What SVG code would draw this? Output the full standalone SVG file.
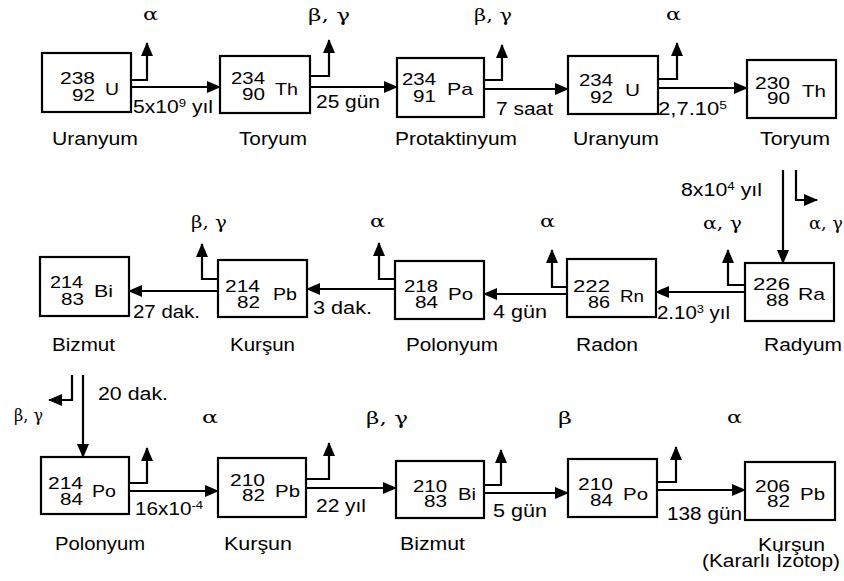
<svg xmlns="http://www.w3.org/2000/svg" width="844" height="581" viewBox="0 0 844 581">
<style>
.box{fill:#fff;stroke:#000;stroke-width:2.2}
.t{font-family:"Liberation Sans",Arial,sans-serif;font-size:17.5px;fill:#000}
.n{font-family:"Liberation Sans",Arial,sans-serif;font-size:17px;fill:#000}
.g{font-family:"DejaVu Serif","Liberation Serif",serif;font-size:17px;fill:#000}
.c path{fill:none;stroke:#000;stroke-width:2.2}
.sup{font-size:11px}
</style>
<defs>
<marker id="ah" markerUnits="userSpaceOnUse" markerWidth="14" markerHeight="12" refX="13" refY="6" orient="auto">
<path d="M0,0 L14,6 L0,12 z" fill="#000"/>
</marker>
</defs>
<rect width="844" height="581" fill="#fff"/>

<g id="connectors" class="c">
<path d="M131,80 H147 V43" marker-end="url(#ah)"/>
<path d="M131,87 H220" marker-end="url(#ah)"/>
<path d="M310,76 H329 V40" marker-end="url(#ah)"/>
<path d="M310,87 H397" marker-end="url(#ah)"/>
<path d="M484,80 H502 V45" marker-end="url(#ah)"/>
<path d="M484,89 H568" marker-end="url(#ah)"/>
<path d="M658,79 H677 V43" marker-end="url(#ah)"/>
<path d="M658,88 H747" marker-end="url(#ah)"/>
<path d="M783,170 V263" marker-end="url(#ah)"/>
<path d="M796,170 V200 H817" marker-end="url(#ah)"/>
<path d="M745,285 H728 V250" marker-end="url(#ah)"/>
<path d="M745,292 H656" marker-end="url(#ah)"/>
<path d="M567,287 H552 V250" marker-end="url(#ah)"/>
<path d="M567,294 H484" marker-end="url(#ah)"/>
<path d="M395,279 H379 V243" marker-end="url(#ah)"/>
<path d="M395,289 H307" marker-end="url(#ah)"/>
<path d="M218,279 H202 V244" marker-end="url(#ah)"/>
<path d="M218,291 H129" marker-end="url(#ah)"/>
<path d="M83,375 V457" marker-end="url(#ah)"/>
<path d="M72,375 V400 H49" marker-end="url(#ah)"/>
<path d="M129,483 H147 V448" marker-end="url(#ah)"/>
<path d="M129,491 H218" marker-end="url(#ah)"/>
<path d="M306,479 H329 V443" marker-end="url(#ah)"/>
<path d="M306,488 H396" marker-end="url(#ah)"/>
<path d="M484,485 H501 V450" marker-end="url(#ah)"/>
<path d="M484,493 H568" marker-end="url(#ah)"/>
<path d="M657,482 H676 V447" marker-end="url(#ah)"/>
<path d="M657,490 H745" marker-end="url(#ah)"/>
</g>

<g id="connector-labels">
<text class="g" x="143" y="20" textLength="15" lengthAdjust="spacingAndGlyphs">α</text>
<text class="g" x="308" y="21" textLength="42" lengthAdjust="spacingAndGlyphs">β, γ</text>
<text class="g" x="474" y="21" textLength="38" lengthAdjust="spacingAndGlyphs">β, γ</text>
<text class="g" x="666" y="20" textLength="15" lengthAdjust="spacingAndGlyphs">α</text>
<text class="t" x="133" y="113" textLength="80" lengthAdjust="spacingAndGlyphs">5x10<tspan class="sup" dy="-6">9</tspan><tspan dy="6"> yıl</tspan></text>
<text class="t" x="316" y="108" textLength="64" lengthAdjust="spacingAndGlyphs">25 gün</text>
<text class="t" x="496" y="115" textLength="57" lengthAdjust="spacingAndGlyphs">7 saat</text>
<text class="t" x="658" y="115" textLength="69" lengthAdjust="spacingAndGlyphs">2,7.10<tspan class="sup" dy="-6">5</tspan></text>
<text class="t" x="681" y="196" textLength="81" lengthAdjust="spacingAndGlyphs">8x10<tspan class="sup" dy="-6">4</tspan><tspan dy="6"> yıl</tspan></text>
<text class="g" x="809" y="229" textLength="34" lengthAdjust="spacingAndGlyphs">α, γ</text>
<text class="g" x="703" y="229" textLength="39" lengthAdjust="spacingAndGlyphs">α, γ</text>
<text class="g" x="540" y="227" textLength="15" lengthAdjust="spacingAndGlyphs">α</text>
<text class="g" x="370" y="227" textLength="15" lengthAdjust="spacingAndGlyphs">α</text>
<text class="g" x="191" y="228" textLength="36" lengthAdjust="spacingAndGlyphs">β, γ</text>
<text class="t" x="657" y="319" textLength="73" lengthAdjust="spacingAndGlyphs">2.10<tspan class="sup" dy="-6">3</tspan><tspan dy="6"> yıl</tspan></text>
<text class="t" x="493" y="318" textLength="54" lengthAdjust="spacingAndGlyphs">4 gün</text>
<text class="t" x="313" y="314" textLength="59" lengthAdjust="spacingAndGlyphs">3 dak.</text>
<text class="t" x="133" y="318" textLength="67" lengthAdjust="spacingAndGlyphs">27 dak.</text>
<text class="t" x="98" y="400" textLength="70" lengthAdjust="spacingAndGlyphs">20 dak.</text>
<text class="g" x="14" y="421" textLength="29" lengthAdjust="spacingAndGlyphs">β, γ</text>
<text class="g" x="202" y="423" textLength="16" lengthAdjust="spacingAndGlyphs">α</text>
<text class="g" x="366" y="424" textLength="42" lengthAdjust="spacingAndGlyphs">β, γ</text>
<text class="g" x="558" y="424" textLength="14" lengthAdjust="spacingAndGlyphs">β</text>
<text class="g" x="727" y="423" textLength="15" lengthAdjust="spacingAndGlyphs">α</text>
<text class="t" x="135" y="515" textLength="68" lengthAdjust="spacingAndGlyphs">16x10<tspan class="sup" dy="-6">-4</tspan></text>
<text class="t" x="316" y="512" textLength="50" lengthAdjust="spacingAndGlyphs">22 yıl</text>
<text class="t" x="493" y="517" textLength="54" lengthAdjust="spacingAndGlyphs">5 gün</text>
<text class="t" x="667" y="520" textLength="75" lengthAdjust="spacingAndGlyphs">138 gün</text>
</g>

<g id="U238">
<rect class="box" x="42" y="53" width="89" height="59"/>
<text class="n" x="60" y="84" textLength="35" lengthAdjust="spacingAndGlyphs">238</text>
<text class="n" x="72" y="101" textLength="23" lengthAdjust="spacingAndGlyphs">92</text>
<text class="n" x="105" y="95" textLength="14" lengthAdjust="spacingAndGlyphs">U</text>
<text class="t" x="52" y="145" textLength="86" lengthAdjust="spacingAndGlyphs">Uranyum</text>
</g>
<g id="Th234">
<rect class="box" x="220" y="56" width="90" height="57"/>
<text class="n" x="231" y="84" textLength="34" lengthAdjust="spacingAndGlyphs">234</text>
<text class="n" x="242" y="100" textLength="23" lengthAdjust="spacingAndGlyphs">90</text>
<text class="n" x="275" y="95" textLength="23" lengthAdjust="spacingAndGlyphs">Th</text>
<text class="t" x="239" y="145" textLength="68" lengthAdjust="spacingAndGlyphs">Toryum</text>
</g>
<g id="Pa234">
<rect class="box" x="397" y="58" width="87" height="59"/>
<text class="n" x="402" y="85" textLength="34" lengthAdjust="spacingAndGlyphs">234</text>
<text class="n" x="413" y="102" textLength="23" lengthAdjust="spacingAndGlyphs">91</text>
<text class="n" x="447" y="95" textLength="26" lengthAdjust="spacingAndGlyphs">Pa</text>
<text class="t" x="395" y="145" textLength="122" lengthAdjust="spacingAndGlyphs">Protaktinyum</text>
</g>
<g id="U234">
<rect class="box" x="568" y="56" width="90" height="58"/>
<text class="n" x="579" y="86" textLength="34" lengthAdjust="spacingAndGlyphs">234</text>
<text class="n" x="590" y="103" textLength="23" lengthAdjust="spacingAndGlyphs">92</text>
<text class="n" x="625" y="96" textLength="15" lengthAdjust="spacingAndGlyphs">U</text>
<text class="t" x="573" y="145" textLength="86" lengthAdjust="spacingAndGlyphs">Uranyum</text>
</g>
<g id="Th230">
<rect class="box" x="747" y="60" width="89" height="58"/>
<text class="n" x="755" y="89" textLength="35" lengthAdjust="spacingAndGlyphs">230</text>
<text class="n" x="767" y="104" textLength="23" lengthAdjust="spacingAndGlyphs">90</text>
<text class="n" x="802" y="97" textLength="24" lengthAdjust="spacingAndGlyphs">Th</text>
<text class="t" x="760" y="145" textLength="70" lengthAdjust="spacingAndGlyphs">Toryum</text>
</g>
<g id="Ra226">
<rect class="box" x="745" y="263" width="89" height="58"/>
<text class="n" x="753" y="290" textLength="37" lengthAdjust="spacingAndGlyphs">226</text>
<text class="n" x="766" y="306" textLength="23" lengthAdjust="spacingAndGlyphs">88</text>
<text class="n" x="798" y="300" textLength="27" lengthAdjust="spacingAndGlyphs">Ra</text>
<text class="t" x="764" y="351" textLength="78" lengthAdjust="spacingAndGlyphs">Radyum</text>
</g>
<g id="Rn222">
<rect class="box" x="567" y="259" width="89" height="58"/>
<text class="n" x="573" y="292" textLength="37" lengthAdjust="spacingAndGlyphs">222</text>
<text class="n" x="588" y="308" textLength="22" lengthAdjust="spacingAndGlyphs">86</text>
<text class="n" x="620" y="302" textLength="24" lengthAdjust="spacingAndGlyphs">Rn</text>
<text class="t" x="576" y="351" textLength="62" lengthAdjust="spacingAndGlyphs">Radon</text>
</g>
<g id="Po218">
<rect class="box" x="395" y="261" width="89" height="58"/>
<text class="n" x="404" y="292" textLength="34" lengthAdjust="spacingAndGlyphs">218</text>
<text class="n" x="415" y="308" textLength="23" lengthAdjust="spacingAndGlyphs">84</text>
<text class="n" x="448" y="300" textLength="25" lengthAdjust="spacingAndGlyphs">Po</text>
<text class="t" x="406" y="351" textLength="92" lengthAdjust="spacingAndGlyphs">Polonyum</text>
</g>
<g id="Pb214">
<rect class="box" x="218" y="260" width="89" height="57"/>
<text class="n" x="225" y="292" textLength="35" lengthAdjust="spacingAndGlyphs">214</text>
<text class="n" x="237" y="308" textLength="23" lengthAdjust="spacingAndGlyphs">82</text>
<text class="n" x="273" y="300" textLength="24" lengthAdjust="spacingAndGlyphs">Pb</text>
<text class="t" x="230" y="351" textLength="65" lengthAdjust="spacingAndGlyphs">Kurşun</text>
</g>
<g id="Bi214">
<rect class="box" x="40" y="257" width="89" height="59"/>
<text class="n" x="50" y="288" textLength="33" lengthAdjust="spacingAndGlyphs">214</text>
<text class="n" x="61" y="305" textLength="23" lengthAdjust="spacingAndGlyphs">83</text>
<text class="n" x="94" y="297" textLength="19" lengthAdjust="spacingAndGlyphs">Bi</text>
<text class="t" x="52" y="351" textLength="63" lengthAdjust="spacingAndGlyphs">Bizmut</text>
</g>
<g id="Po214">
<rect class="box" x="41" y="457" width="88" height="57"/>
<text class="n" x="48" y="489" textLength="35" lengthAdjust="spacingAndGlyphs">214</text>
<text class="n" x="60" y="505" textLength="23" lengthAdjust="spacingAndGlyphs">84</text>
<text class="n" x="92" y="497" textLength="24" lengthAdjust="spacingAndGlyphs">Po</text>
<text class="t" x="55" y="550" textLength="90" lengthAdjust="spacingAndGlyphs">Polonyum</text>
</g>
<g id="Pb210">
<rect class="box" x="218" y="458" width="88" height="59"/>
<text class="n" x="230" y="486" textLength="35" lengthAdjust="spacingAndGlyphs">210</text>
<text class="n" x="242" y="501" textLength="23" lengthAdjust="spacingAndGlyphs">82</text>
<text class="n" x="275" y="497" textLength="25" lengthAdjust="spacingAndGlyphs">Pb</text>
<text class="t" x="224" y="550" textLength="68" lengthAdjust="spacingAndGlyphs">Kurşun</text>
</g>
<g id="Bi210">
<rect class="box" x="396" y="461" width="88" height="57"/>
<text class="n" x="413" y="492" textLength="34" lengthAdjust="spacingAndGlyphs">210</text>
<text class="n" x="424" y="507" textLength="23" lengthAdjust="spacingAndGlyphs">83</text>
<text class="n" x="458" y="500" textLength="18" lengthAdjust="spacingAndGlyphs">Bi</text>
<text class="t" x="400" y="550" textLength="65" lengthAdjust="spacingAndGlyphs">Bizmut</text>
</g>
<g id="Po210">
<rect class="box" x="568" y="459" width="89" height="58"/>
<text class="n" x="578" y="490" textLength="35" lengthAdjust="spacingAndGlyphs">210</text>
<text class="n" x="590" y="506" textLength="23" lengthAdjust="spacingAndGlyphs">84</text>
<text class="n" x="623" y="500" textLength="25" lengthAdjust="spacingAndGlyphs">Po</text>
</g>
<g id="Pb206">
<rect class="box" x="745" y="462" width="90" height="58"/>
<text class="n" x="755" y="492" textLength="35" lengthAdjust="spacingAndGlyphs">206</text>
<text class="n" x="767" y="507" textLength="23" lengthAdjust="spacingAndGlyphs">82</text>
<text class="n" x="800" y="500" textLength="25" lengthAdjust="spacingAndGlyphs">Pb</text>
<text class="t" x="758" y="551" textLength="67" lengthAdjust="spacingAndGlyphs">Kurşun</text>
<text class="t" x="702" y="567" textLength="138" lengthAdjust="spacingAndGlyphs">(Kararlı İzotop)</text>
</g>
</svg>
